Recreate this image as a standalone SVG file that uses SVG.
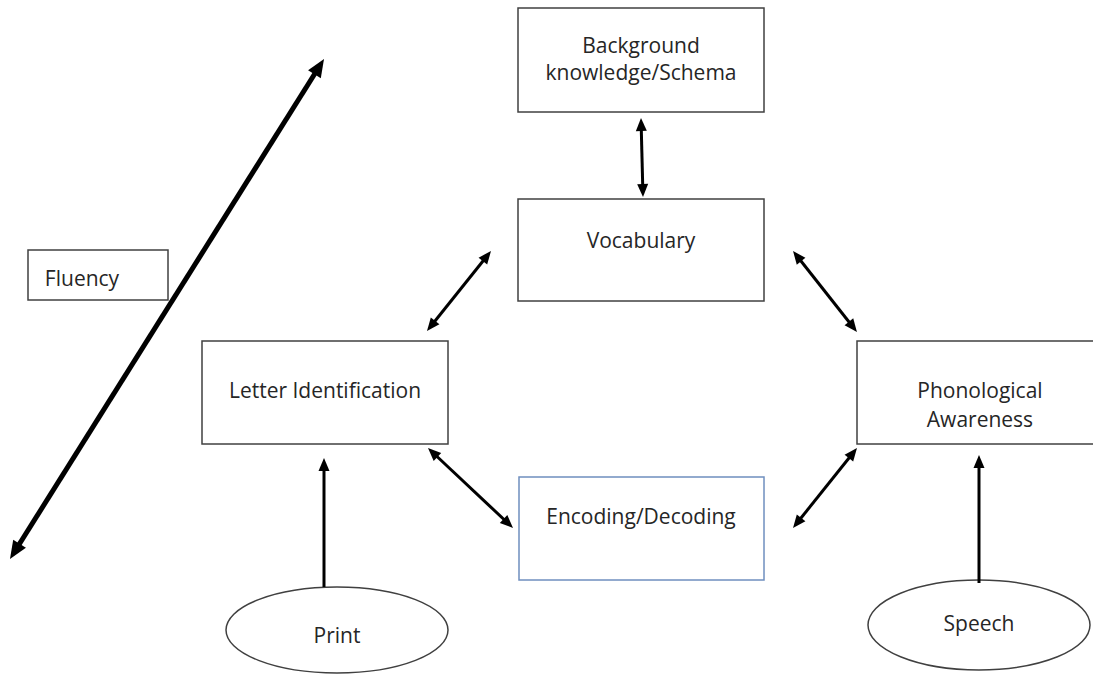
<svg xmlns="http://www.w3.org/2000/svg" width="1093" height="675" viewBox="0 0 1093 675">
<style>
.box{fill:#fff;stroke:#404040;stroke-width:1.5}
.blue{fill:#fff;stroke:#6f8fbf;stroke-width:1.5}
.ell{fill:#fff;stroke:#404040;stroke-width:1.5}
.t{font-family:"Open Sans","Liberation Sans",Arial,sans-serif;font-size:21px;fill:#262626;text-anchor:middle}
.c{stroke:#000;stroke-width:3;fill:none}
.cb{stroke:#000;stroke-width:5;fill:none}
</style>
<defs>
<marker id="ah" markerUnits="userSpaceOnUse" markerWidth="13" markerHeight="11" refX="5" refY="5.5" orient="auto-start-reverse" overflow="visible">
<path d="M0,0 L13,5.5 L0,11 z" fill="#000"/>
</marker>
<marker id="ahb" markerUnits="userSpaceOnUse" markerWidth="18" markerHeight="15" refX="8" refY="7.5" orient="auto-start-reverse" overflow="visible">
<path d="M0,0 L18,7.5 L0,15 z" fill="#000"/>
</marker>
</defs>
<rect width="1093" height="675" fill="#fff"/>
<g id="fluency">
<rect class="box" x="28" y="250" width="140" height="50"/>
<text class="t" x="82" y="286">Fluency</text>
</g>
<g id="background">
<rect class="box" x="518" y="8" width="246" height="104"/>
<text class="t" x="641" y="53">Background</text>
<text class="t" x="641" y="80">knowledge/Schema</text>
</g>
<g id="vocabulary">
<rect class="box" x="518" y="199" width="246" height="102"/>
<text class="t" x="641" y="248">Vocabulary</text>
</g>
<g id="letter">
<rect class="box" x="202" y="341" width="246" height="103"/>
<text class="t" x="325" y="398">Letter Identification</text>
</g>
<g id="phono">
<rect class="box" x="857" y="341" width="240" height="103"/>
<text class="t" x="980" y="398">Phonological</text>
<text class="t" x="980" y="427">Awareness</text>
</g>
<g id="encoding">
<rect class="blue" x="519" y="477" width="245" height="103"/>
<text class="t" x="641" y="524">Encoding/Decoding</text>
</g>
<g id="print">
<ellipse class="ell" cx="337" cy="630" rx="111" ry="43"/>
<text class="t" x="337" y="643">Print</text>
</g>
<g id="speech">
<ellipse class="ell" cx="979" cy="625" rx="111" ry="45"/>
<text class="t" x="979" y="631">Speech</text>
</g>
<g id="connectors">
<line class="cb" x1="318.7" y1="67.5" x2="15.3" y2="550.5" marker-start="url(#ahb)" marker-end="url(#ahb)"/>
<line class="c" x1="641.2" y1="126" x2="642.8" y2="189" marker-start="url(#ah)" marker-end="url(#ah)"/>
<line class="c" x1="486" y1="257.2" x2="432" y2="324.8" marker-start="url(#ah)" marker-end="url(#ah)"/>
<line class="c" x1="433.8" y1="453.5" x2="507.2" y2="522.5" marker-start="url(#ah)" marker-end="url(#ah)"/>
<line class="c" x1="798" y1="257.3" x2="852" y2="325.7" marker-start="url(#ah)" marker-end="url(#ah)"/>
<line class="c" x1="798" y1="521.75" x2="852" y2="454.25" marker-start="url(#ah)" marker-end="url(#ah)"/>
<line class="c" x1="324" y1="587" x2="324" y2="466" marker-end="url(#ah)"/>
<line class="c" x1="979" y1="583" x2="979" y2="463" marker-end="url(#ah)"/>
</g>
</svg>
